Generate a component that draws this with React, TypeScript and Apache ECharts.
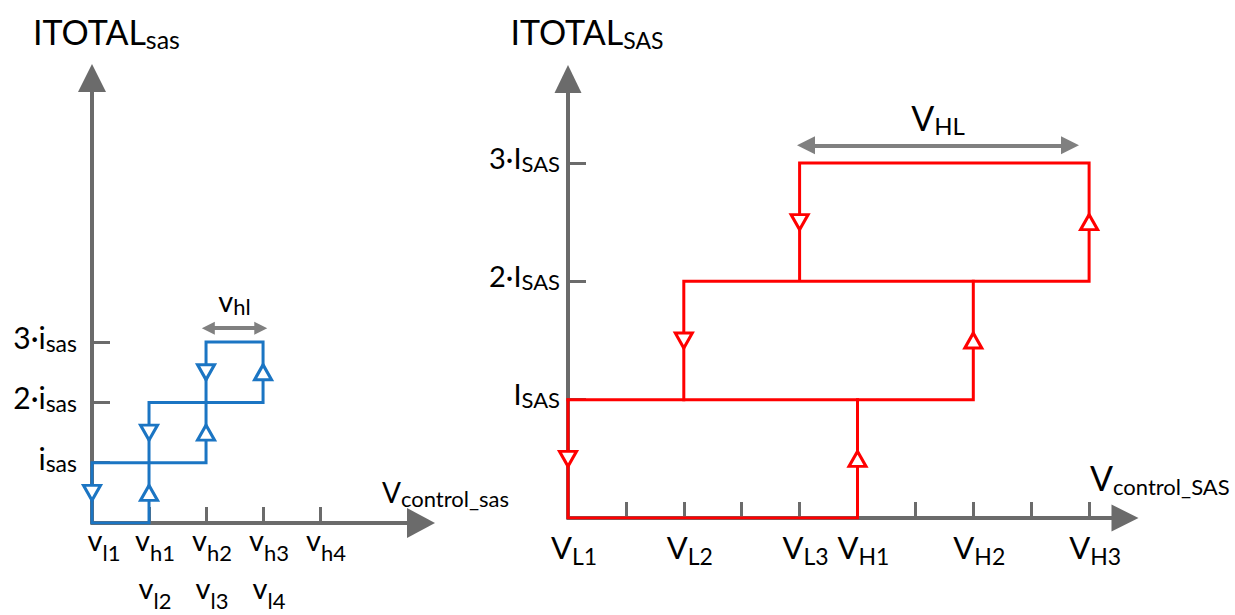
import React, { useEffect, useRef } from 'react';
import * as echarts from 'echarts';

const FONT = 'Lato, "Noto Sans", sans-serif';
const AXIS_GRAY = '#6b6b6b';
const SPAN_GRAY = '#808080';
const BLUE = '#1b75c3';
const RED = '#ff0000';

// ---- left panel: ITOTAL_sas vs V_control_sas (x in steps of v, y in units of i_sas)
const sasTickX = [1, 2, 3, 4];
const sasLabelX = [0, 1, 2, 3, 4];
const sasTopNames = ['l1', 'h1', 'h2', 'h3', 'h4'];
const sasBottomNames = ['', 'l2', 'l3', 'l4', ''];
const sasLevels = [1, 2, 3];
const sasLevelPrefix = ['', '2·', '3·'];
const sasLoop = [[0, 1], [0, 0], [1, 0], [1, 2], [3, 2], [3, 3], [2, 3], [2, 1], [0, 1]];
const sasDownArrows = [[0, 0.5], [1, 1.5], [2, 2.5]];
const sasUpArrows = [[1, 0.5], [2, 1.5], [3, 2.5]];
const sasSpanX = [2.04, 2.96];
const sasSpanY = 3.23;

// ---- right panel: ITOTAL_SAS vs V_control_SAS
const SASTickX = [1, 2, 3, 4, 5, 6, 7, 8, 9];
const SASLabelX = [0, 2, 4, 5, 7, 9];
const SASNames = ['L1', 'L2', 'L3', 'H1', 'H2', 'H3'];
const SASLevels = [1, 2, 3];
const SASLevelPrefix = ['', '2·', '3·'];
const SASPaths = [
  [[0, 1], [0, 0], [5, 0], [5, 1]],
  [[0, 1], [7, 1], [7, 2]],
  [[2, 1], [2, 2], [9, 2], [9, 3], [4, 3], [4, 2]],
];
const SASDownArrows = [[0, 0.5], [2, 1.5], [4, 2.5]];
const SASUpArrows = [[5, 0.5], [7, 1.5], [9, 2.5]];
const SASSpanX = [4.11, 8.67];
const SASSpanY = 3.15;

const txt = (size: number, lh: number, extra: any = {}) => ({
  fontFamily: FONT,
  fontSize: size,
  lineHeight: lh,
  color: '#000',
  ...extra,
});
const sub = (size: number, lh: number) => txt(size, lh, { verticalAlign: 'bottom' });

const axisLine = (arrow: number[]) => ({
  show: true,
  onZero: false,
  symbol: ['none', 'triangle'],
  symbolSize: arrow,
  lineStyle: { color: AXIS_GRAY, width: 4 },
});

const ticks = (values: number[], length: number) => ({
  show: true,
  inside: true,
  length,
  customValues: values,
  lineStyle: { color: AXIS_GRAY, width: 3 },
});

const arrowMarks = (data: number[][], color: string, rotate: number, xi: number) => ({
  type: 'scatter',
  xAxisIndex: xi,
  yAxisIndex: xi,
  data,
  symbol: 'triangle',
  symbolSize: [17, 15],
  symbolRotate: rotate,
  itemStyle: { color: '#fff', borderColor: color, borderWidth: 3, opacity: 1 },
  z: 5,
  silent: true,
  emphasis: { disabled: true },
});

const pathSeries = (data: number[][], color: string, xi: number) => ({
  type: 'line',
  xAxisIndex: xi,
  yAxisIndex: xi,
  data,
  showSymbol: false,
  symbol: 'none',
  lineStyle: { color, width: 3, join: 'miter', cap: 'square' },
  z: 3,
  silent: true,
  emphasis: { disabled: true },
});

const spanSeries = (
  xs: number[],
  y: number,
  xi: number,
  head: number,
  label: string,
  rich: any,
  distance: number
) => ({
  type: 'line',
  xAxisIndex: xi,
  yAxisIndex: xi,
  data: [],
  silent: true,
  markLine: {
    silent: true,
    animation: false,
    symbol: ['triangle', 'triangle'],
    symbolSize: [head, head],
    lineStyle: { color: SPAN_GRAY, width: 4, type: 'solid' },
    emphasis: { disabled: true },
    label: {
      show: true,
      position: 'middle',
      distance,
      formatter: label,
      rich,
    },
    data: [[{ coord: [xs[0], y] }, { coord: [xs[1], y] }]],
  },
});

export default function App() {
  const ref = useRef<HTMLDivElement>(null);

  useEffect(() => {
    if (!ref.current) return;
    const chart = echarts.init(ref.current, null, { renderer: 'svg' });

    const leftRichY = { m: txt(30, 34), s: sub(23, 27) };
    const leftRichX = { m: txt(29, 48), s: sub(22, 42), p: { width: 12 } };
    const rightRichY = { m: txt(29, 34), s: sub(22, 27) };
    const rightRichX = { m: txt(31, 40), s: sub(23, 32) };

    const option: any = {
      animation: false,
      backgroundColor: '#fff',
      grid: [
        { left: 92, top: 78, width: 329, height: 445, outerBoundsMode: 'none' },
        { left: 568, top: 79, width: 557, height: 439, outerBoundsMode: 'none' },
      ],
      xAxis: [
        {
          type: 'value',
          gridIndex: 0,
          min: 0,
          max: 5.77,
          splitLine: { show: false },
          axisLine: axisLine([30, 28]),
          axisTick: ticks(sasTickX, 16),
          axisLabel: {
            show: true,
            customValues: sasLabelX,
            margin: -8,
            padding: [0, 0, 0, 12],
            rich: leftRichX,
            formatter: (v: number) => {
              const i = Math.round(v);
              let s = `${i === 0 ? '{p|}' : ''}{m|v}{s|${sasTopNames[i]}}`;
              if (sasBottomNames[i]) s += `\n{m|v}{s|${sasBottomNames[i]}}`;
              return s;
            },
          },
          name: '{m|V}{s|control_sas}',
          nameLocation: 'end',
          nameGap: -39,
          nameMoveOverlap: false,
          nameTextStyle: {
            align: 'left',
            verticalAlign: 'bottom',
            padding: [0, 0, 14, 0],
            rich: { m: txt(28, 34), s: sub(22, 27) },
          },
        },
        {
          type: 'value',
          gridIndex: 1,
          min: 0,
          max: 9.62,
          splitLine: { show: false },
          axisLine: axisLine([27, 27]),
          axisTick: ticks(SASTickX, 16),
          axisLabel: {
            show: true,
            customValues: SASLabelX,
            margin: 9,
            padding: [0, 0, 0, 12],
            rich: rightRichX,
            formatter: (v: number) => {
              const i = SASLabelX.indexOf(Math.round(v));
              return `{m|V}{s|${SASNames[i]}}`;
            },
          },
          name: '{m|V}{s|control_SAS}',
          nameLocation: 'end',
          nameGap: -35,
          nameMoveOverlap: false,
          nameTextStyle: {
            align: 'left',
            verticalAlign: 'bottom',
            padding: [0, 0, 21, 0],
            rich: { m: txt(34, 40), s: sub(22, 32) },
          },
        },
      ],
      yAxis: [
        {
          type: 'value',
          gridIndex: 0,
          min: 0,
          max: 7.38,
          splitLine: { show: false },
          axisLine: axisLine([28, 28]),
          axisTick: ticks(sasLevels, 18),
          axisLabel: {
            show: true,
            customValues: sasLevels,
            margin: 15,
            padding: [0, 0, 10, 0],
            rich: leftRichY,
            formatter: (v: number) => {
              const i = sasLevels.indexOf(Math.round(v));
              return `{m|${sasLevelPrefix[i]}i}{s|sas}`;
            },
          },
          name: '{m|ITOTAL}{s|sas}',
          nameLocation: 'end',
          nameGap: 27,
          nameMoveOverlap: false,
          nameTextStyle: {
            padding: [0, 0, 0, 29],
            rich: { m: txt(34, 40), s: sub(25, 32) },
          },
        },
        {
          type: 'value',
          gridIndex: 1,
          min: 0,
          max: 3.71,
          splitLine: { show: false },
          axisLine: axisLine([27, 28]),
          axisTick: ticks(SASLevels, 18),
          axisLabel: {
            show: true,
            customValues: SASLevels,
            margin: 8,
            padding: [0, 0, 12, 0],
            rich: rightRichY,
            formatter: (v: number) => {
              const i = SASLevels.indexOf(Math.round(v));
              return `{m|${SASLevelPrefix[i]}I}{s|SAS}`;
            },
          },
          name: '{m|ITOTAL}{s|SAS}',
          nameLocation: 'end',
          nameGap: 28,
          nameMoveOverlap: false,
          nameTextStyle: {
            padding: [0, 0, 0, 38],
            rich: { m: txt(34, 40), s: sub(23, 32) },
          },
        },
      ],
      series: [
        pathSeries(sasLoop, BLUE, 0),
        arrowMarks(sasDownArrows, BLUE, 180, 0),
        arrowMarks(sasUpArrows, BLUE, 0, 0),
        spanSeries(sasSpanX, sasSpanY, 0, 13, '{m|v}{s|hl}', { m: txt(29, 34), s: sub(22, 28) }, 11),
        ...SASPaths.map((p) => pathSeries(p, RED, 1)),
        arrowMarks(SASDownArrows, RED, 180, 1),
        arrowMarks(SASUpArrows, RED, 0, 1),
        spanSeries(SASSpanX, SASSpanY, 1, 18, '{m|V}{s|HL}', { m: txt(34, 40), s: sub(24, 32) }, 8),
      ],
    };

    chart.setOption(option);
    return () => chart.dispose();
  }, []);

  return (
    <div
      ref={ref}
      style={{ position: 'fixed', left: 0, top: 0, width: 1235, height: 615, background: '#fff' }}
    />
  );
}
